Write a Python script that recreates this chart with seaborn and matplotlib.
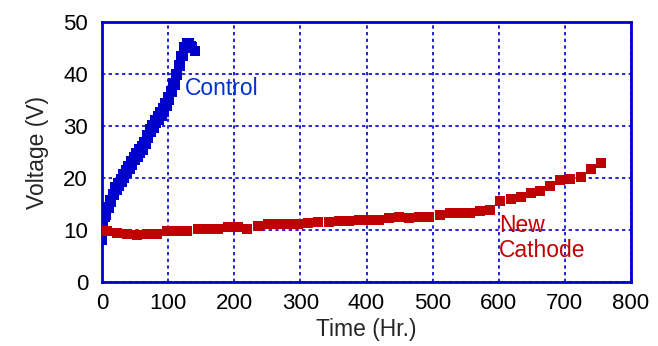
import pandas as pd
import seaborn as sns
import matplotlib.pyplot as plt

# Control cell (blue)
control_time = [0, 2, 4, 6, 8, 10, 12, 14, 16, 18, 20, 22, 24, 26, 28, 30, 32, 34, 36, 38,
                40, 42, 44, 46, 48, 50, 52, 54, 56, 58, 60, 62, 64, 66, 68, 70, 72, 74, 76, 78,
                80, 82, 84, 86, 88, 90, 92, 94, 96, 98, 100, 102, 104, 106, 108, 110, 112, 114,
                116, 118, 120, 122, 124, 126, 128, 130, 132, 134, 136, 141]
control_volt = [8.0, 11.0, 12.6, 12.8, 14.5, 14.2, 15.8, 15.4, 17.0, 16.8, 18.2, 17.7, 19.0, 18.5,
                19.9, 19.3, 20.8, 20.1, 21.5, 20.9, 22.3, 21.7, 23.3, 22.6, 24.1, 23.4, 24.9, 24.1,
                25.5, 24.8, 26.1, 25.4, 26.9, 26.6, 28.2, 27.8, 29.4, 28.8, 30.3, 29.6, 31.1, 30.5,
                31.9, 31.2, 32.7, 32.0, 33.5, 32.8, 34.4, 33.8, 35.5, 35.0, 36.8, 36.5, 38.3, 38.0,
                40.0, 39.8, 41.8, 41.6, 43.5, 43.5, 45.2, 45.0, 45.9, 45.5, 45.9, 45.4, 45.2, 44.5]

# New cathode cell (red)
cathode_time = [7, 23, 38, 53, 68, 83, 99, 114, 129, 145, 161, 175, 190, 205, 220, 236, 251, 266,
                281, 297, 312, 327, 343, 358, 373, 389, 404, 419, 434, 449, 465, 480, 495, 511,
                526, 541, 556, 571, 587, 602, 618, 633, 648, 663, 678, 693, 708, 724, 739, 754]
cathode_volt = [9.8, 9.5, 9.25, 9.0, 9.25, 9.25, 9.9, 9.9, 9.9, 10.2, 10.2, 10.2, 10.55, 10.55, 10.2,
                10.7, 11.1, 11.2, 11.2, 11.2, 11.3, 11.5, 11.6, 11.7, 11.7, 12.0, 12.0, 12.0, 12.4,
                12.5, 12.25, 12.5, 12.5, 12.9, 13.3, 13.3, 13.3, 13.7, 13.9, 15.5, 16.0, 16.3, 17.2,
                17.6, 18.5, 19.7, 19.9, 20.2, 21.8, 22.9]

blue = "#0000cc"
red = "#c00000"

sns.set_style("white")
plt.rcParams['font.family'] = ['Liberation Sans', 'DejaVu Sans']

fig = plt.figure(figsize=(6.58, 3.46), dpi=100)
ax = fig.add_axes([0.155, 0.185, 0.804, 0.751])

df_c = pd.DataFrame({"time": control_time, "volt": control_volt})
df_n = pd.DataFrame({"time": cathode_time, "volt": cathode_volt})

sns.scatterplot(data=df_c, x="time", y="volt", marker="s", s=46, color=blue,
                linewidth=0, ax=ax, zorder=3)
sns.scatterplot(data=df_n, x="time", y="volt", marker="s", s=46, color=red,
                linewidth=0, ax=ax, zorder=4)

ax.set_xlim(0, 800)
ax.set_ylim(0, 50)
ax.set_xticks(range(0, 801, 100))
ax.set_yticks(range(0, 51, 10))
ax.grid(True, color=blue, linestyle=(0, (2, 2)), linewidth=1.2)
ax.set_axisbelow(True)
for sp in ax.spines.values():
    sp.set_color(blue)
    sp.set_linewidth(2)
ax.tick_params(axis="x", length=0, labelsize=16, pad=8, colors="black")
ax.tick_params(axis="y", length=0, labelsize=16, pad=10, colors="black")
ax.set_xlabel("Time (Hr.)", fontsize=16.5, labelpad=3)
ax.set_ylabel("Voltage (V)", fontsize=16.5, labelpad=10)

ax.text(126, 37.3, "Control", color="#0033cc", fontsize=16.5, va="center", ha="left")
ax.text(600, 8.5, "New\nCathode", color=red, fontsize=16.5, va="center", ha="left",
        linespacing=1.1)

fig.savefig("out.png", dpi=100)
